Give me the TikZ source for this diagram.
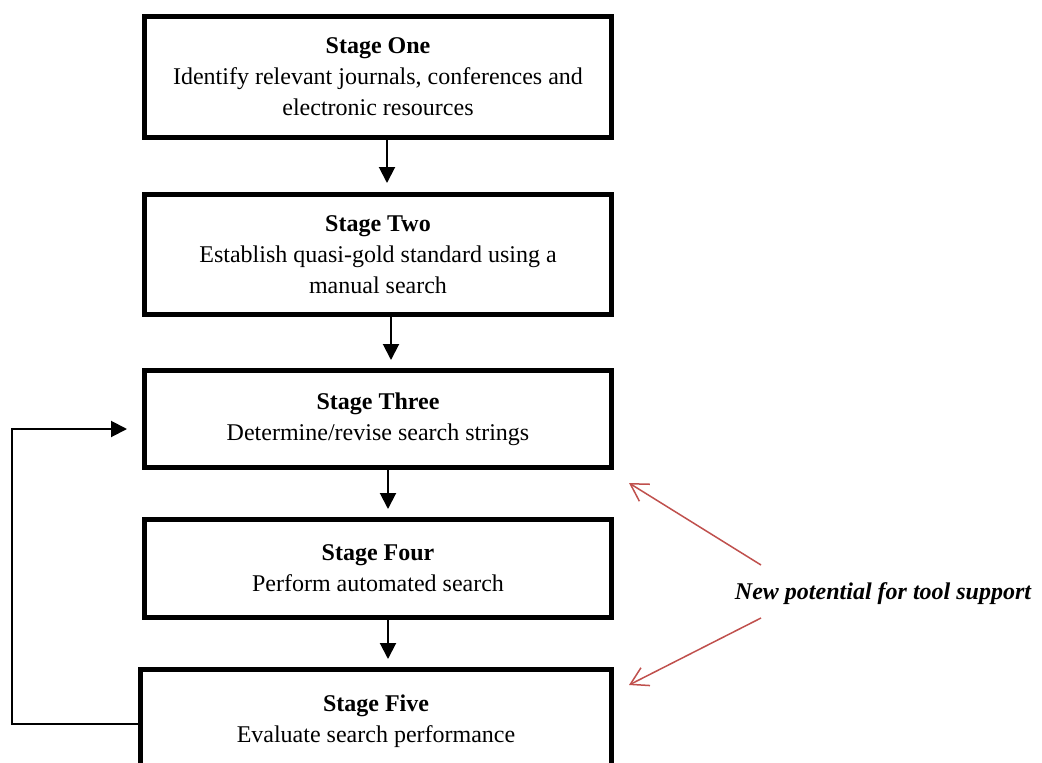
\documentclass[tikz,border=0pt]{standalone}
\usepackage{fontspec}
\setmainfont{Liberation Serif}
\usetikzlibrary{arrows.meta}
\definecolor{notered}{RGB}{192,80,77}
\begin{document}
\begin{tikzpicture}[x=1pt,y=-1pt,
  stagebox/.style={draw, line width=5pt, inner sep=0pt, align=center,
    minimum width=467pt, font=\fontsize{24}{31}\selectfont},
  flow/.style={line width=2pt, -{Triangle[length=16pt,width=16pt]}},
  hint/.style={notered, line width=1.5pt, -{Straight Barb[length=17pt,width=20pt,line width=1.5pt]}}]
\clip (0,0) rectangle (1042,763);
\fill[white] (0,0) rectangle (1042,763);

% stages
\node[stagebox, minimum height=121pt] (b1) at (378,77)
  {\textbf{Stage One}\\Identify relevant journals, conferences and\\electronic resources};
\node[stagebox, minimum height=120pt] (b2) at (378,254.5)
  {\textbf{Stage Two}\\Establish quasi-gold standard using a\\manual search};
\node[stagebox, minimum height=97pt] (b3) at (378,419)
  {\textbf{Stage Three}\\Determine/revise search strings};
\node[stagebox, minimum height=98pt] (b4) at (378,568.5)
  {\textbf{Stage Four}\\Perform automated search};
\node[stagebox, minimum height=103pt, minimum width=471pt] (b5) at (376,721)
  {\textbf{Stage Five}\\Evaluate search performance};

% main flow
\draw[flow, shorten >=9pt] ([xshift=9pt]b1.south) -- ([xshift=9pt]b1.south |- b2.north);
\draw[flow, shorten >=8pt] ([xshift=13pt]b2.south) -- ([xshift=13pt]b2.south |- b3.north);
\draw[flow, shorten >=8pt] ([xshift=10pt]b3.south) -- ([xshift=10pt]b3.south |- b4.north);
\draw[flow, shorten >=8pt] ([xshift=10pt]b4.south) -- ([xshift=10pt]b4.south |- b5.north);

% feedback loop
\coordinate (loop) at (12,724);
\draw[flow] ([yshift=-3pt]b5.west) -- (loop) |- ([xshift=-15pt,yshift=-10pt]b3.west);

% annotation
\node[font=\fontsize{24}{31}\selectfont\bfseries\itshape] (lab) at (883,594)
  {New potential for tool support};
\coordinate (t3) at (629,483);
\coordinate (t5) at (629,685);
\draw[hint] ([xshift=-122pt,yshift=29pt]lab.center) -- (t3);
\draw[hint] ([xshift=-122pt,yshift=-24pt]lab.center) -- (t5);
\end{tikzpicture}
\end{document}
